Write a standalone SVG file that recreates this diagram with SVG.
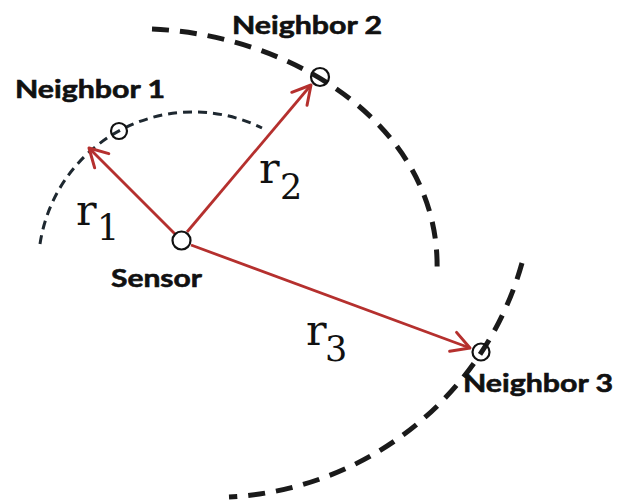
<svg xmlns="http://www.w3.org/2000/svg" width="626" height="502" viewBox="0 0 626 502">
  <style>
    .arc-thin { fill: none; stroke: #1e2830; stroke-width: 3; stroke-dasharray: 9 6; }
    .arc-thick { fill: none; stroke: #1a1a1a; stroke-width: 5; stroke-dasharray: 17 11; }
    .vec { fill: none; stroke: #b5302e; stroke-width: 2.8; marker-end: url(#arrow); }
    .node { fill: none; stroke: #111; stroke-width: 2.2; }
    .label { font-family: Lato, "Liberation Sans", sans-serif; font-weight: bold; font-size: 25px; fill: #111; stroke: #111; stroke-width: 0.6; }
    .rlab { font-family: "DejaVu Serif", "Liberation Serif", serif; fill: #111; }
  </style>
  <defs>
    <marker id="arrow" viewBox="-22 -12 24 24" refX="0" refY="0" markerWidth="24" markerHeight="24" markerUnits="userSpaceOnUse" orient="auto">
      <path d="M-18,-10 L0,0 L-18,10" fill="none" stroke="#b5302e" stroke-width="3" stroke-linecap="round" stroke-linejoin="round"/>
    </marker>
  </defs>
  <rect width="626" height="502" fill="#fff"/>

  <g id="ranges">
    <path class="arc-thin" d="M40,244 A155,155 0 0 1 262,128"/>
    <path class="arc-thick" d="M152,29 C295,35 442,128 437,273"/>
    <path class="arc-thick" d="M522,263 A321,321 0 0 1 229,497"/>
  </g>

  <g id="connectors">
    <line class="vec" x1="175" y1="234" x2="89" y2="148"/>
    <line class="vec" x1="187" y1="232" x2="311" y2="85"/>
    <line class="vec" x1="191" y1="245" x2="470" y2="348"/>
  </g>

  <g id="sensor">
    <circle cx="181.5" cy="240.5" r="9" fill="#fff" stroke="#111" stroke-width="2.2"/>
    <text class="label" x="111" y="287" textLength="91" lengthAdjust="spacingAndGlyphs">Sensor</text>
  </g>
  <g id="neighbor1">
    <circle class="node" cx="119" cy="131" r="8"/>
    <text class="label" x="15" y="98" textLength="150" lengthAdjust="spacingAndGlyphs">Neighbor 1</text>
  </g>
  <g id="neighbor2">
    <circle class="node" cx="320" cy="77" r="9"/>
    <text class="label" x="232" y="33.5" textLength="150" lengthAdjust="spacingAndGlyphs">Neighbor 2</text>
  </g>
  <g id="neighbor3">
    <circle class="node" cx="481" cy="352" r="8.5"/>
    <text class="label" x="463" y="391.5" textLength="150" lengthAdjust="spacingAndGlyphs">Neighbor 3</text>
  </g>

  <g id="distance-labels">
    <text class="rlab"><tspan x="76" y="225" font-size="43">r</tspan><tspan x="97" y="239.5" font-size="35">1</tspan></text>
    <text class="rlab"><tspan x="259" y="183" font-size="43">r</tspan><tspan x="280" y="198.5" font-size="35">2</tspan></text>
    <text class="rlab"><tspan x="306" y="345" font-size="43">r</tspan><tspan x="325" y="360.5" font-size="35">3</tspan></text>
  </g>
</svg>
